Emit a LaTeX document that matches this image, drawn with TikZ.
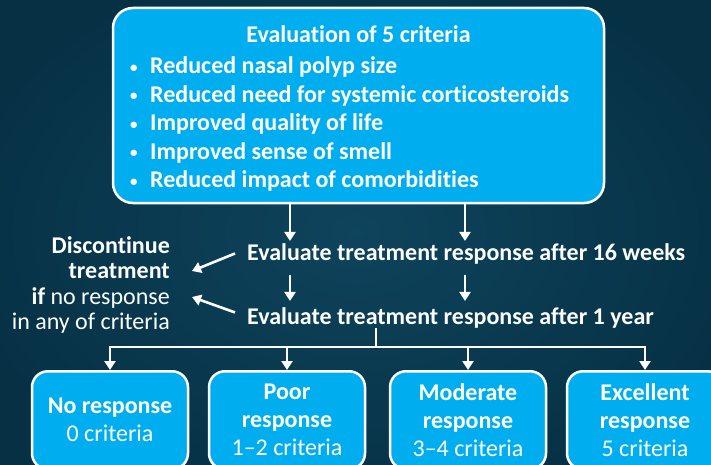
\documentclass[tikz,border=0pt]{standalone}
\usepackage{fontspec}
\setmainfont{Carlito}[Ligatures={TeX,NoCommon}]
\usetikzlibrary{arrows.meta}

\definecolor{bginner}{RGB}{14,68,92}
\definecolor{bgouter}{RGB}{6,48,68}
\definecolor{boxblue}{RGB}{0,174,239}

\newcommand{\critbullet}{\makebox[20pt][l]{\raisebox{1.5pt}{\fontsize{15}{15}\selectfont\textbullet}}}

\begin{document}
\begin{tikzpicture}[x=1pt, y=1pt,
    critbox/.style={draw=white, line width=2.5pt, fill=boxblue, rounded corners=20pt},
    respbox/.style={draw=white, line width=2.5pt, fill=boxblue, rounded corners=16pt,
        minimum width=156pt, minimum height=98pt, inner sep=0pt,
        align=center, text=white, font=\fontsize{24}{28}\selectfont},
    flowtext/.style={text=white, inner sep=0pt, font=\bfseries\fontsize{24}{28}\selectfont},
    arr/.style={white, line width=2.6pt, -{Triangle[width=11pt,length=9pt]}},
    link/.style={white, line width=2.6pt}]

    % Background
    \useasboundingbox (0,0) rectangle (711,464);
    \clip (0,0) rectangle (711,464);
    \shade[inner color=bginner, outer color=bgouter] (-60,-60) rectangle (771,524);

    % The five criteria
    \node[critbox, minimum width=491pt, minimum height=195pt] (crit) at (358.5,358.5) {};
    \node[flowtext, anchor=base] (crittitle) at (358.5,421.7) {Evaluation of 5 criteria};
    \node[flowtext, anchor=west, align=left, font=\bfseries\fontsize{24}{28.5}\selectfont] (critlist) at (130,340)
        {\critbullet Reduced nasal polyp size\\
         \critbullet Reduced need for systemic corticosteroids\\
         \critbullet Improved quality of life\\
         \critbullet Improved sense of smell\\
         \critbullet Reduced impact of comorbidities};

    % Evaluation steps
    \node[flowtext, anchor=base west] (weeks) at (247,204) {Evaluate treatment response after 16 weeks};
    \node[flowtext, anchor=base west] (year) at (247,140) {Evaluate treatment response after 1 year};
    \node[flowtext, anchor=east, align=right, font=\fontsize{24}{25.1}\selectfont] (stop) at (170,179)
        {\textbf{Discontinue}\\\textbf{treatment}\\\textbf{if} no response\\in any of criteria};

    % Arrows between the steps
    \coordinate (colA) at (290,0);
    \coordinate (colB) at (465,0);
    \draw[arr, shorten >=2pt] (crit.south -| colA) -- (weeks.north -| colA);
    \draw[arr, shorten >=2pt] (crit.south -| colB) -- (weeks.north -| colB);
    \draw[arr, shorten <=11pt, shorten >=6pt] (weeks.south -| colA) -- (year.north -| colA);
    \draw[arr, shorten <=11pt, shorten >=6pt] (weeks.south -| colB) -- (year.north -| colB);
    \draw[arr] ([xshift=-12pt]weeks.west) -- ([xshift=22pt,yshift=14pt]stop.east);
    \draw[arr] ([xshift=-12pt,yshift=5pt]year.west) -- ([xshift=22pt,yshift=-12pt]stop.east);

    % Response levels
    \node[respbox] (none) at (110,43.75) {\textbf{No response}\\0 criteria};
    \node[respbox] (poor) at (287,43.75) {\textbf{Poor}\\\textbf{response}\\1--2 criteria};
    \node[respbox] (moderate) at (468,43.75) {\textbf{Moderate}\\\textbf{response}\\3--4 criteria};
    \node[respbox] (excellent) at (645,43.75) {\textbf{Excellent}\\\textbf{response}\\5 criteria};

    \coordinate (split) at (376,117);
    \draw[link] (split |- year.south) -- (split);
    \draw[arr] (split) -| (none);
    \draw[arr] (split) -| (poor);
    \draw[arr] (split) -| (moderate);
    \draw[arr] (split) -| (excellent);

\end{tikzpicture}
\end{document}
